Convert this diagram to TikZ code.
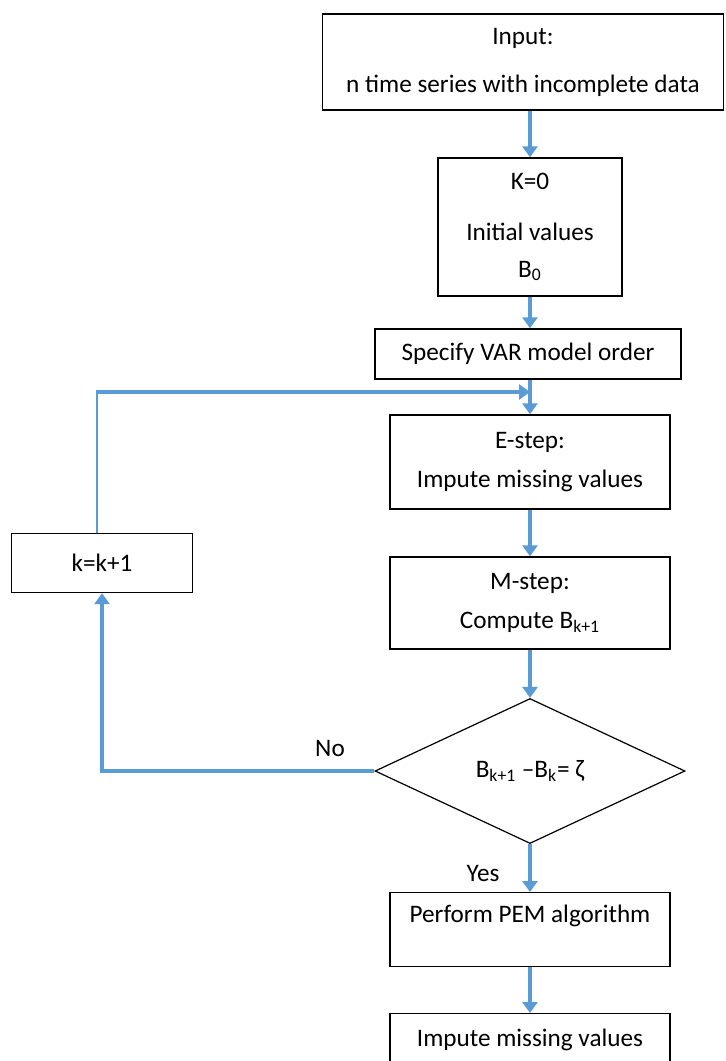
\documentclass[tikz,border=0pt]{standalone}
\usepackage{fontspec}
\setmainfont{Carlito}
\usepackage{tikz}
\usetikzlibrary{arrows.meta,shapes.geometric}
\definecolor{flowblue}{RGB}{91,155,213}
\tikzset{
    box/.style={draw=black, line width=0.7pt, align=center, inner sep=0pt, font=\fontsize{12.6}{15.2}\selectfont},
    lbl/.style={font=\fontsize{12.6}{15.2}\selectfont},
    arr/.style={draw=flowblue, line width=1.6pt, -{Triangle[width=7.5pt,length=5.5pt]}},
}
\begin{document}
\begin{tikzpicture}[x=0.5pt, y=-0.5pt]
\clip (0,0) rectangle (725,1061);
\fill[white] (0,0) rectangle (725,1061);
\node[box, minimum width=200.5pt, minimum height=48pt] (input) at (523,62) {Input:\\[8.8pt] n time series with incomplete data};
\node[box, minimum width=92pt, minimum height=69pt] (kzero) at (530,227) {K=0\\[10.3pt] Initial values\\[3.3pt] B\textsubscript{0}};
\node[box, minimum width=153pt, minimum height=25pt] (spec) at (528,354) {Specify VAR model order};
\node[box, minimum width=140pt, minimum height=47pt] (estep) at (530,462) {E-step:\\[4.3pt] Impute missing values};
\node[box, minimum width=140pt, minimum height=46pt] (mstep) at (530,603) {M-step:\\[4.3pt] Compute B\textsubscript{k+1}};
\node[box, draw=black, line width=0.6pt, shape=diamond, minimum width=155pt, minimum height=72.5pt] (dec) at (530,771) {B\textsubscript{k+1} \textendash B\textsubscript{k}= ζ};
\node[box, minimum width=90.5pt, minimum height=29.5pt] (kbox) at (102,563) {k=k+1};
\node[box, minimum width=140pt, text height=15pt, text depth=22pt, anchor=north] (pem) at (530,892) {Perform PEM algorithm};
\node[box, minimum width=140pt, text height=16.5pt, text depth=20.5pt, anchor=north] (impute) at (530,1013) {Impute missing values};
\node[lbl] (no) at (330,748) {No};
\node[lbl] (yes) at (483,873) {Yes};
\coordinate (corner) at (97,392);
\coordinate (join) at (530,392);

\draw[arr] (kzero.north |- input.south) -- (kzero);
\draw[arr] (kzero) -- (spec.north -| kzero);
\draw[arr] (estep.north |- spec.south) -- (estep);
\draw[arr] (estep) -- (mstep);
\draw[arr] (mstep) -- (dec);
\draw[arr] (dec) -- (pem);
\draw[arr] (pem) -- (impute);
\draw[arr] (dec.west) -| (kbox.south);
\draw[draw=flowblue, line width=0.7pt] (kbox.north -| corner) -- (corner);
\draw[arr, line width=2pt] ([xshift=-0.35pt]corner) -- (join);
\end{tikzpicture}
\end{document}
